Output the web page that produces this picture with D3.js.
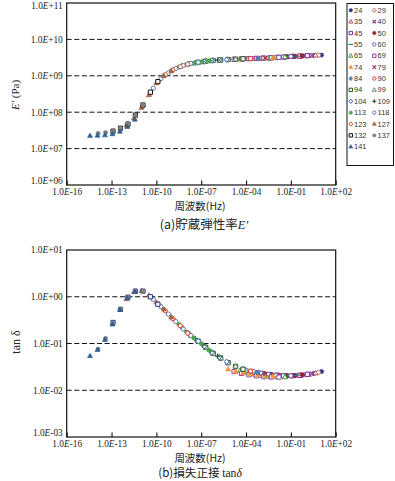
<!DOCTYPE html>
<html><head><meta charset="utf-8">
<script src="https://cdn.jsdelivr.net/npm/d3@7"></script>
<style>body{margin:0;background:#fff}svg{display:block}</style>
</head><body>
<svg id="c" width="395" height="481"></svg>
<script>
// ---------------- DATA ----------------
const temps = [24,29,35,40,45,50,55,60,65,69,74,79,84,90,94,99,104,109,113,118,123,127,132,137,141];
// measured frequencies (Hz)
const measFreqHz = [0.01, 0.0316, 0.1, 0.316, 1, 3.16, 10];
// log10 of the shift factor aT for each temperature
const logAT = [0.05,-0.15,-0.35,-0.6,-0.9,-1.25,-1.6,-2.0,-2.4,-2.8,-3.2,-3.7,-4.2,-4.7,-5.2,-5.7,-6.3,-6.9,-7.5,-8.2,-8.9,-10.0,-10.9,-11.9,-12.44];
// storage modulus E' (MPa), one row per temperature
const storageMPa = [
 [3162,3273,3388,3467,3548,3631,3715],
 [3133,3236,3350,3436,3516,3597,3681],
 [3112,3199,3311,3412,3491,3573,3656],
 [3076,3148,3251,3365,3451,3532,3614],
 [3034,3105,3184,3289,3404,3483,3565],
 [3006,3055,3126,3214,3327,3428,3508],
 [2979,3013,3076,3148,3251,3365,3451],
 [2951,2985,3020,3090,3162,3273,3388],
 [2897,2951,2992,3034,3105,3177,3296],
 [2844,2911,2965,2999,3048,3119,3206],
 [2793,2858,2924,2972,3006,3062,3133],
 [2729,2793,2858,2924,2972,3006,3062],
 [2630,2729,2793,2858,2924,2972,3006],
 [2512,2630,2729,2793,2858,2924,2972],
 [2344,2512,2630,2729,2793,2858,2924],
 [2188,2344,2512,2642,2729,2793,2858],
 [1862,2138,2291,2455,2630,2716,2780],
 [1445,1778,2089,2270,2432,2594,2704],
 [1000,1380,1738,2042,2239,2399,2570],
 [457,832,1202,1585,1905,2188,2344],
 [148,331,692,1072,1445,1778,2089],
 [43.7,69.2,132,295,631,1000,1349],
 [30.2,36.3,46.8,83.2,158,355,692],
 [26.3,27.5,30.2,36.3,50.1,79.4,166],
 [22.6,22.9,23.4,25.1,29.5,39.8,63.1]
];
// loss tangent tan delta, one row per temperature
const tanDelta = [
 [0.0209,0.0204,0.0204,0.0209,0.0219,0.0229,0.0251],
 [0.0211,0.0206,0.0204,0.0207,0.0211,0.0221,0.0240],
 [0.0214,0.0207,0.0204,0.0205,0.0209,0.0216,0.0232],
 [0.0219,0.0211,0.0205,0.0204,0.0207,0.0214,0.0226],
 [0.0229,0.0216,0.0209,0.0204,0.0204,0.0209,0.0219],
 [0.0240,0.0226,0.0214,0.0207,0.0204,0.0207,0.0214],
 [0.0251,0.0240,0.0224,0.0214,0.0207,0.0204,0.0209],
 [0.0269,0.0251,0.0234,0.0219,0.0209,0.0204,0.0204],
 [0.0263,0.0234,0.0219,0.0204,0.0195,0.0191,0.0191],
 [0.0251,0.0229,0.0214,0.0204,0.0195,0.0191,0.0191],
 [0.0282,0.0251,0.0234,0.0224,0.0214,0.0204,0.0200],
 [0.0490,0.0389,0.0324,0.0282,0.0257,0.0240,0.0224],
 [0.0617,0.0490,0.0389,0.0324,0.0282,0.0257,0.0240],
 [0.0832,0.0617,0.0490,0.0389,0.0324,0.0282,0.0257],
 [0.112,0.0832,0.0617,0.0490,0.0389,0.0324,0.0282],
 [0.148,0.112,0.0832,0.0617,0.0490,0.0389,0.0324],
 [0.224,0.158,0.117,0.0871,0.0646,0.0513,0.0407],
 [0.339,0.240,0.166,0.126,0.0933,0.0692,0.0537],
 [0.537,0.363,0.257,0.178,0.132,0.100,0.0724],
 [0.871,0.617,0.427,0.295,0.204,0.148,0.112],
 [1.288,1.0,0.708,0.501,0.339,0.240,0.166],
 [0.891,1.259,1.349,1.072,0.759,0.537,0.363],
 [0.282,0.537,0.977,1.318,1.318,1.0,0.692],
 [0.0759,0.129,0.269,0.550,0.955,1.318,1.288],
 [0.0542,0.0731,0.120,0.257,0.525,0.933,1.29]
];
const xTickValues = [1e-16,1e-13,1e-10,1e-7,1e-4,1e-1,1e2];
const xTickLabels = ["1.0E-16","1.0E-13","1.0E-10","1.0E-07","1.0E-04","1.0E-01","1.0E+02"];
const yTopTickValues = [1e6,1e7,1e8,1e9,1e10,1e11];
const yTopTickLabels = ["1.0E+06","1.0E+07","1.0E+08","1.0E+09","1.0E+10","1.0E+11"];
const yBotTickValues = [1e-3,1e-2,1e-1,1e0,1e1];
const yBotTickLabels = ["1.0E-03","1.0E-02","1.0E-01","1.0E+00","1.0E+01"];

// ---------------- STYLE ----------------
const shapes = ['circle','ocircle','otri','x','osq','circle','dash','ocircle','otri','osq','tri','x','diamond','ocircle','osq','otri','odiamond','plus','circle','ocircle','ocircle','tri','osq','circle','tri'];
const colors = ['#1f3a8f','#d07070','#c0504d','#7a3a9a','#7030a0','#9c1f2e','#1b8a8a','#4a6cc0','#3f9a3f','#9a40a8','#f5922f','#a03060','#4f81bd','#ff3030','#1d5e20','#6f8f6f','#2f5fb0','#1a4f1a','#4aa84a','#5b7bb5','#c8603c','#b0603a','#111111','#7f7f7f','#2f5f8f'];
const colorsBottom = colors.map((c,i)=> temps[i]===132 ? '#1f3590' : temps[i]===123 ? '#f03a2a' : c);

const svg = d3.select('#c');
const L = 66.7, R = 335.7;
const serif = '"Liberation Serif","Times New Roman",serif';
const cjk = '"Noto Sans CJK JP","Noto Sans CJK SC",sans-serif';

function drawMarker(g, shape, color, x, y, k){
  k = k || 1;
  const open = shape.startsWith('o');
  const s = open ? shape.slice(1) : shape;
  const fill = open ? '#fff' : color;
  let el;
  if (s==='circle') { el = g.append('circle').attr('cx',x).attr('cy',y).attr('r',2.1*k); }
  else {
    let d;
    if (s==='tri') d = `M0,${-2.7*k}L${2.5*k},${1.7*k}L${-2.5*k},${1.7*k}Z`;
    else if (s==='sq') d = `M${-2.1*k},${-2.1*k}h${4.2*k}v${4.2*k}h${-4.2*k}Z`;
    else if (s==='diamond') d = `M0,${-2.7*k}L${2.4*k},0L0,${2.7*k}L${-2.4*k},0Z`;
    else if (s==='x') d = `M${-2.1*k},${-2.1*k}L${2.1*k},${2.1*k}M${2.1*k},${-2.1*k}L${-2.1*k},${2.1*k}`;
    else if (s==='plus') d = `M${-2.6*k},0H${2.6*k}M0,${-2.6*k}V${2.6*k}`;
    else if (s==='dash') d = `M${-3*k},0H${3*k}`;
    el = g.append('path').attr('d',d).attr('transform',`translate(${x},${y})`);
  }
  const lineOnly = (s==='x'||s==='plus'||s==='dash');
  el.attr('fill', lineOnly ? 'none' : fill)
    .attr('stroke', color)
    .attr('stroke-width', lineOnly ? 1.1 : (open ? 1 : 0.6));
}

function labelTspans(sel, txt){
  sel.text(null);
  const i = txt.indexOf('E');
  sel.append('tspan').text(txt.slice(0,i));
  sel.append('tspan').attr('font-style','italic').text('E');
  sel.append('tspan').text(txt.slice(i+1));
}

function panel(cfg){
  const x = d3.scaleLog().domain([1e-16,1e2]).range([L,R]);
  const y = d3.scaleLog().domain(cfg.ydom).range([cfg.bottom,cfg.top]);
  const g = svg.append('g');
  g.selectAll('line.grid').data(cfg.yticks.slice(1,-1)).enter().append('line')
    .attr('x1',L).attr('x2',R).attr('y1',d=>y(d)).attr('y2',d=>y(d))
    .attr('stroke','#111').attr('stroke-width',1).attr('stroke-dasharray','5,2.6');
  const xa = g.append('g').attr('transform',`translate(0,${cfg.bottom})`)
    .call(d3.axisBottom(x).tickValues(xTickValues).tickSizeInner(-4.5).tickSizeOuter(0).tickPadding(3.2)
      .tickFormat((d,i)=>xTickLabels[i]));
  xa.select('.domain').remove();
  xa.selectAll('.tick line').attr('stroke','#111').attr('stroke-width',1.1);
  xa.selectAll('.tick text').attr('font-family',serif).attr('font-size',9.3).attr('fill','#222')
    .each(function(d,i){ labelTspans(d3.select(this), xTickLabels[i]); });
  const ya = g.append('g').attr('transform',`translate(${L},0)`)
    .call(d3.axisLeft(y).tickValues(cfg.yticks).tickSize(0).tickPadding(4)
      .tickFormat((d,i)=>cfg.ylabels[i]));
  ya.select('.domain').remove();
  ya.selectAll('.tick text').attr('font-family',serif).attr('font-size',9.3).attr('fill','#222')
    .each(function(d,i){ labelTspans(d3.select(this), cfg.ylabels[i]); });
  // keep the end labels clear of the window edge and the x labels
  ya.selectAll('.tick').filter((d,i)=>i===0).select('text').attr('dy','-0.14em');
  if (cfg.top < 6) ya.selectAll('.tick').filter((d,i)=>i===cfg.yticks.length-1).select('text').attr('dy','0.62em');
  const pg = g.append('g');
  temps.forEach((t,si)=>{
    measFreqHz.forEach((f,pi)=>{
      const fr = f*Math.pow(10,logAT[si]);
      drawMarker(pg, shapes[si], cfg.colors[si], x(fr), y(cfg.values[si][pi]*cfg.mult));
    });
  });
  g.append('rect').attr('x',L).attr('y',cfg.top).attr('width',R-L).attr('height',cfg.bottom-cfg.top)
    .attr('fill','none').attr('stroke','#111').attr('stroke-width',1.2);
  g.append('text').attr('x',200).attr('y',cfg.bottom+24.5).attr('text-anchor','middle')
    .attr('font-family',cjk).attr('font-size',10.5).attr('fill','#222').text('周波数(Hz)');
  return {x,y,g};
}

panel({top:3,bottom:185,ydom:[1e6,1e11],yticks:yTopTickValues,ylabels:yTopTickLabels,values:storageMPa,mult:1e6,colors:colors});
panel({top:250,bottom:437,ydom:[1e-3,1e1],yticks:yBotTickValues,ylabels:yBotTickLabels,values:tanDelta,mult:1,colors:colorsBottom});

const yt1 = svg.append('text').attr('transform','translate(19,95) rotate(-90)').attr('text-anchor','middle')
  .attr('font-family',serif).attr('font-size',11).attr('fill','#222');
yt1.append('tspan').attr('font-style','italic').text("E'");
yt1.append('tspan').text(' (Pa)');
svg.append('text').attr('transform','translate(20,342) rotate(-90)').attr('text-anchor','middle')
  .attr('font-family',serif).attr('font-size',12).attr('fill','#222').text('tan δ');

const c1 = svg.append('text').attr('x',204).attr('y',229).attr('text-anchor','middle')
  .attr('font-size',12.5).attr('fill','#222');
c1.append('tspan').attr('font-family',cjk).text('(a)貯蔵弾性率');
c1.append('tspan').attr('font-family',serif).attr('font-style','italic').text("E'");
const c2 = svg.append('text').attr('x',200).attr('y',477.3).attr('text-anchor','middle')
  .attr('font-size',11.6).attr('fill','#222');
c2.append('tspan').attr('font-family',cjk).text('(b)損失正接 ');
c2.append('tspan').attr('font-family',serif).text('tan');
c2.append('tspan').attr('font-family',serif).attr('font-style','italic').text('δ');

const lg = svg.append('g');
lg.append('rect').attr('x',347).attr('y',3.5).attr('width',46.5).attr('height',162)
  .attr('fill','#fff').attr('stroke','#111').attr('stroke-width',1);
temps.forEach((t,i)=>{
  const row = Math.floor(i/2), col = i%2;
  const yy = 10.3 + row*11.37;
  const mx = col===0 ? 350.8 : 374.3;
  drawMarker(lg, shapes[i], colors[i], mx, yy, 0.8);
  lg.append('text').attr('x',mx+3.3).attr('y',yy).attr('dy','0.35em')
    .attr('font-family','"Liberation Sans",Arial,sans-serif').attr('font-size',7.4).attr('fill','#333').text(t);
});
</script>
</body></html>
